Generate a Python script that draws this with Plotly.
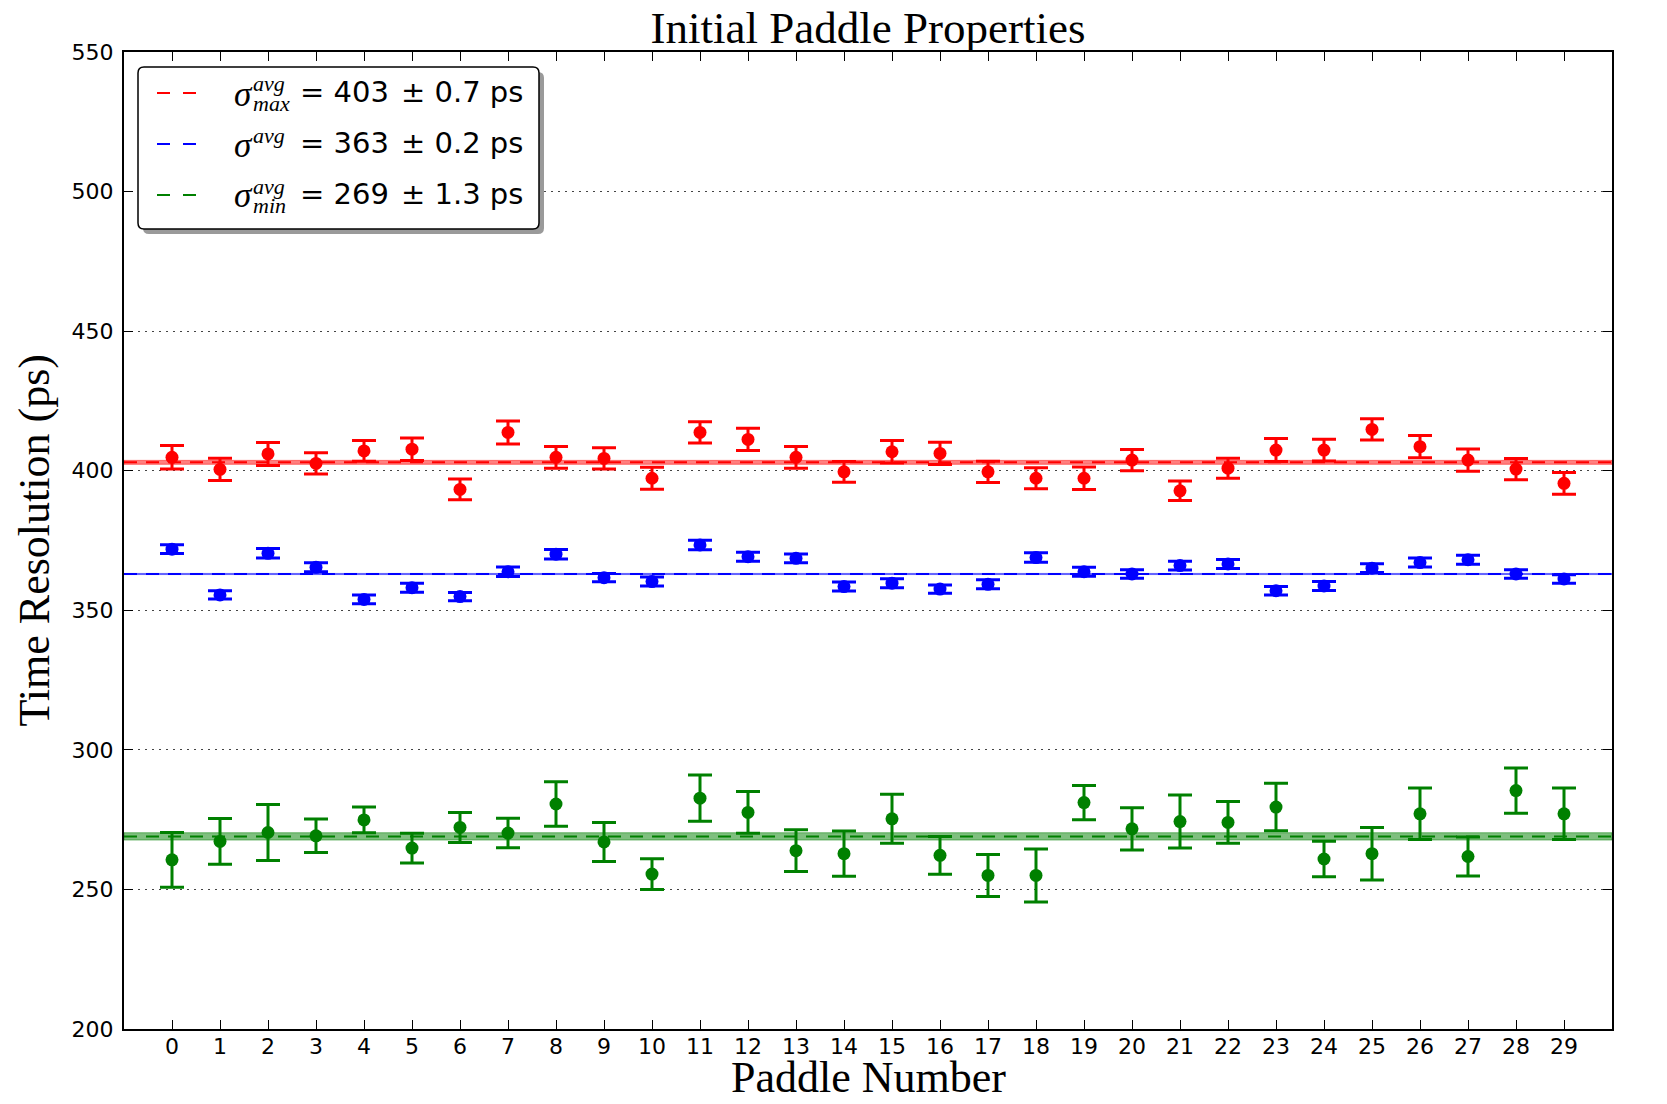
import plotly.graph_objects as go

# ---- data -------------------------------------------------------------
paddles = list(range(30))

sigma_max = [404.8, 400.5, 406.0, 402.6, 407.1, 407.7, 393.3, 413.7, 404.8, 404.4,
             397.3, 413.7, 411.2, 404.8, 399.6, 406.8, 406.2, 399.6, 397.3, 397.3,
             403.8, 392.8, 400.9, 407.4, 407.4, 414.8, 408.6, 403.8, 400.6, 395.5]
sigma_max_err = [4.2, 4.0, 4.1, 3.8, 3.7, 4.0, 3.7, 4.1, 3.9, 3.8,
                 3.9, 3.8, 4.0, 3.9, 3.7, 4.0, 4.0, 3.8, 3.8, 4.0,
                 3.8, 3.5, 3.6, 4.1, 3.9, 3.8, 4.0, 4.0, 3.8, 3.9]

sigma_avg = [371.9, 355.5, 370.4, 365.4, 353.9, 358.1, 354.9, 363.8, 370.1, 361.7,
             360.3, 373.4, 369.2, 368.6, 358.5, 359.7, 357.6, 359.3, 368.9, 363.8,
             363.0, 366.0, 366.6, 357.0, 358.7, 365.1, 367.1, 368.1, 363.0, 361.2]
sigma_avg_err = [1.6, 1.5, 1.7, 1.6, 1.6, 1.6, 1.5, 1.7, 1.7, 1.5,
                 1.6, 1.7, 1.6, 1.6, 1.6, 1.6, 1.5, 1.6, 1.7, 1.6,
                 1.5, 1.6, 1.6, 1.5, 1.6, 1.6, 1.6, 1.6, 1.5, 1.5]

sigma_min = [260.6, 267.2, 270.4, 269.2, 274.9, 264.8, 272.2, 270.2, 280.6, 267.0,
             255.5, 282.7, 277.6, 263.9, 262.8, 275.3, 262.2, 255.0, 255.0, 281.1,
             271.7, 274.3, 274.0, 279.5, 260.9, 262.8, 277.1, 261.8, 285.4, 277.1]
sigma_min_err = [9.8, 8.2, 10.0, 6.0, 4.6, 5.3, 5.4, 5.3, 8.0, 7.0,
                 5.5, 8.3, 7.5, 7.5, 8.1, 8.8, 6.8, 7.5, 9.5, 6.1,
                 7.6, 9.5, 7.5, 8.5, 6.4, 9.4, 9.2, 7.0, 8.1, 9.2]

# averaged resolutions and their uncertainties (ps)
mean_names = ["max", "avg", "min"]
mean_values = [403, 363, 269]
mean_errors = [0.7, 0.2, 1.3]

x_ticks = list(range(30))
y_ticks = [200, 250, 300, 350, 400, 450, 500, 550]
x_range = [-1, 30]
y_range = [200, 550]

# ---- figure geometry (pixels) ----------------------------------------
W, H = 1667, 1104
L, R, T, B = 124, 1612, 52, 1029
PW, PH = R - L, B - T


def px_x(px):
    return (px - L) / PW


def px_y(py):
    return (B - py) / PH


colors = ["#ff0000", "#0000ff", "#008000"]
band_colors = ["rgba(255,0,0,0.5)", "rgba(0,0,255,0.5)", "rgba(0,128,0,0.5)"]

fig = go.Figure()

# averages: shaded uncertainty band + dashed line
for m, e, bc, c in zip(mean_values, mean_errors, band_colors, colors):
    fig.add_hrect(y0=m - e, y1=m + e, fillcolor=bc,
                  line=dict(color=bc, width=1), layer="below")
    fig.add_hline(y=m, line=dict(color=c, width=2, dash="13px,9px"), layer="below")

# per-paddle resolutions with error bars
for vals, errs, c in [(sigma_max, sigma_max_err, colors[0]),
                      (sigma_avg, sigma_avg_err, colors[1]),
                      (sigma_min, sigma_min_err, colors[2])]:
    fig.add_trace(go.Scatter(
        x=paddles, y=vals, mode="markers",
        marker=dict(color=c, size=13, line=dict(width=0)),
        error_y=dict(type="data", array=errs, color=c, thickness=3, width=12),
        showlegend=False, hoverinfo="skip",
    ))

tick_font = dict(family="DejaVu Sans", size=22, color="#000000")
serif = "Liberation Serif"

fig.update_layout(
    width=W, height=H,
    margin=dict(l=L, r=W - R, t=T, b=H - B),
    paper_bgcolor="white", plot_bgcolor="white",
    showlegend=False,
    xaxis=dict(
        range=x_range, tickmode="array", tickvals=x_ticks,
        ticks="inside", ticklen=9, tickwidth=1, tickcolor="#000000",
        showline=True, linecolor="#000000", linewidth=2, mirror="ticks",
        showgrid=False, zeroline=False, tickfont=tick_font,
        ticklabelstandoff=-3,
    ),
    yaxis=dict(
        range=y_range, tickmode="array", tickvals=y_ticks,
        ticks="inside", ticklen=9, tickwidth=1, tickcolor="#000000",
        showline=True, linecolor="#000000", linewidth=2, mirror="ticks",
        showgrid=True, gridcolor="#444444", gridwidth=1, griddash="1.5px,5.5px",
        zeroline=False, tickfont=tick_font, ticklabelstandoff=4,
    ),
    yaxis2=dict(
        range=y_range, tickmode="array", tickvals=y_ticks, overlaying="y",
        side="right", ticks="", showline=False, showgrid=False,
        zeroline=False, tickfont=tick_font, ticklabelstandoff=4,
    ),
    title=dict(
        text="Initial Paddle Properties",
        font=dict(family=serif, size=45, color="#000000"),
        x=0.5, xref="paper", xanchor="center",
        y=1 - 27 / H, yref="container", yanchor="middle",
    ),
)

# axis titles
fig.add_annotation(text="Paddle Number", xref="paper", yref="paper",
                   x=0.5, y=px_y(1077), xanchor="center", yanchor="middle",
                   showarrow=False, font=dict(family=serif, size=44, color="#000000"))
fig.add_annotation(text="Time Resolution (ps)", xref="paper", yref="paper",
                   x=px_x(34), y=0.5, xanchor="center", yanchor="middle",
                   textangle=-90, showarrow=False,
                   font=dict(family=serif, size=44, color="#000000"))

# ---- legend box --------------------------------------------------------
def rounded_rect(x0, y0, x1, y1, r):
    pts = [
        f"M {px_x(x0 + r)},{px_y(y0)}",
        f"L {px_x(x1 - r)},{px_y(y0)}",
        f"Q {px_x(x1)},{px_y(y0)} {px_x(x1)},{px_y(y0 + r)}",
        f"L {px_x(x1)},{px_y(y1 - r)}",
        f"Q {px_x(x1)},{px_y(y1)} {px_x(x1 - r)},{px_y(y1)}",
        f"L {px_x(x0 + r)},{px_y(y1)}",
        f"Q {px_x(x0)},{px_y(y1)} {px_x(x0)},{px_y(y1 - r)}",
        f"L {px_x(x0)},{px_y(y0 + r)}",
        f"Q {px_x(x0)},{px_y(y0)} {px_x(x0 + r)},{px_y(y0)}",
        "Z",
    ]
    return " ".join(pts)


box = (138, 67, 539, 229)
fig.add_shape(type="path", xref="paper", yref="paper",
              path=rounded_rect(box[0] + 5, box[1] + 5, box[2] + 5, box[3] + 5, 6),
              fillcolor="#9a9a9a", line=dict(width=0), layer="above")
fig.add_shape(type="path", xref="paper", yref="paper",
              path=rounded_rect(*box, 6),
              fillcolor="white", line=dict(color="#000000", width=1.5), layer="above")

row_y = [92, 143, 194]
for i, (name, m, e, c) in enumerate(zip(mean_names, mean_values, mean_errors, colors)):
    yc = row_y[i]
    # dashed line sample
    fig.add_shape(type="line", xref="paper", yref="paper",
                  x0=px_x(157), x1=px_x(196), y0=px_y(yc + 1), y1=px_y(yc + 1),
                  line=dict(color=c, width=2, dash="13px,13px"), layer="above")
    # sigma with stacked superscript / subscript
    fig.add_annotation(text="<i>σ</i>", xref="paper", yref="paper",
                       x=px_x(232), y=px_y(yc + 2), xanchor="left", yanchor="middle",
                       showarrow=False, font=dict(family=serif, size=35, color="#000000"))
    fig.add_annotation(text="<i>avg</i>", xref="paper", yref="paper",
                       x=px_x(252), y=px_y(yc - 8), xanchor="left", yanchor="middle",
                       borderpad=0, showarrow=False,
                       font=dict(family=serif, size=22, color="#000000"))
    if name != "avg":
        fig.add_annotation(text=f"<i>{name}</i>", xref="paper", yref="paper",
                           x=px_x(252), y=px_y(yc + 11), xanchor="left", yanchor="middle",
                           borderpad=0, showarrow=False,
                           font=dict(family=serif, size=22, color="#000000"))
    fig.add_annotation(text=f"= {m}", xref="paper", yref="paper",
                       x=px_x(298), y=px_y(yc), xanchor="left", yanchor="middle",
                       showarrow=False, font=dict(family="DejaVu Sans", size=29, color="#000000"))
    fig.add_annotation(text=f"± {e} ps", xref="paper", yref="paper",
                       x=px_x(399), y=px_y(yc), xanchor="left", yanchor="middle",
                       showarrow=False, font=dict(family="DejaVu Sans", size=29, color="#000000"))

fig.write_html("out.html")
